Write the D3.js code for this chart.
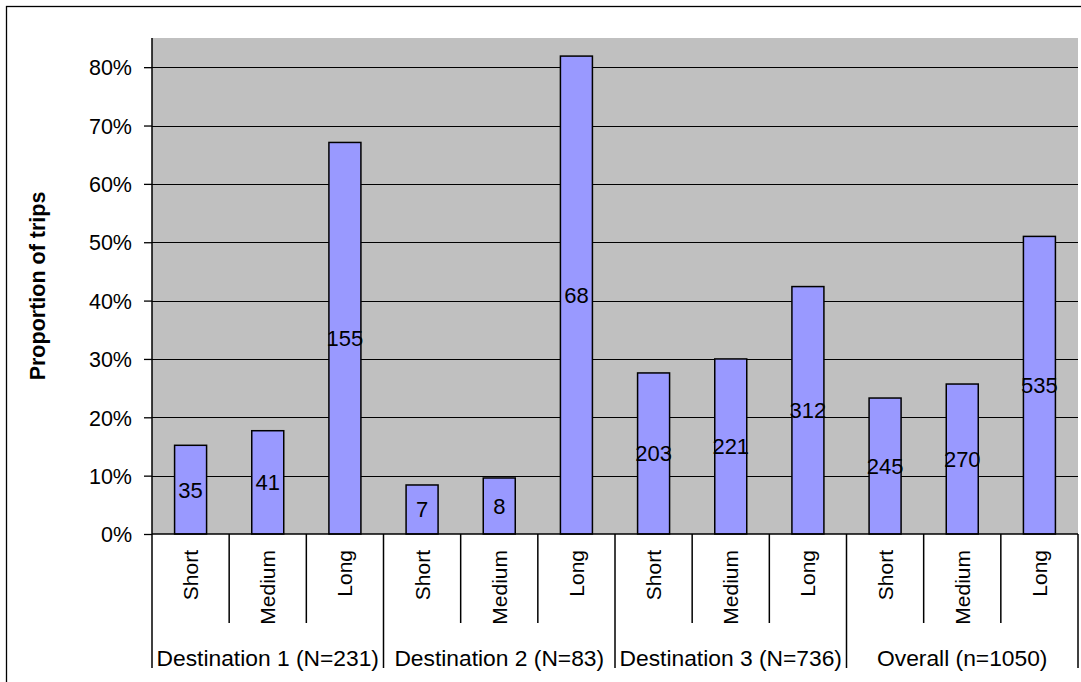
<!DOCTYPE html>
<html><head><meta charset="utf-8">
<script src="https://cdn.jsdelivr.net/npm/d3@7"></script>
<style>
html,body{margin:0;padding:0;background:#fff;}
svg{display:block;font-family:Arial,"Liberation Sans",sans-serif;}
</style></head>
<body><svg id="c" width="1081" height="682"></svg>
<script>
const groups = ["Destination 1 (N=231)", "Destination 2 (N=83)", "Destination 3 (N=736)", "Overall (n=1050)"];
const categories = ["Short", "Medium", "Long"];
const proportions = [0.152, 0.177, 0.671, 0.084, 0.096, 0.819, 0.276, 0.300, 0.424, 0.233, 0.257, 0.510];
const counts = [35, 41, 155, 7, 8, 68, 203, 221, 312, 245, 270, 535];
const yTicks = [0, 0.1, 0.2, 0.3, 0.4, 0.5, 0.6, 0.7, 0.8];
const yMax = 0.85;

const svg = d3.select("#c");
const L = 152, R = 1078, T = 38, B = 534;

// outer border
svg.append("rect").attr("x", 6.5).attr("y", 6.5).attr("width", 1100).attr("height", 700)
  .attr("fill", "#fff").attr("stroke", "#000").attr("stroke-width", 1.3);

const items = [];
groups.forEach((g, gi) => categories.forEach((c, ci) => items.push({g: gi, c, i: gi * 3 + ci})));

const x = d3.scaleBand().domain(d3.range(items.length)).range([L, R]).padding(0);
const y = d3.scaleLinear().domain([0, yMax]).range([B, T]);
const gx = d3.scaleBand().domain(d3.range(groups.length)).range([L, R]).padding(0);

// plot area
svg.append("rect").attr("x", L).attr("y", T).attr("width", R - L).attr("height", B - T).attr("fill", "#C0C0C0");

// gridlines
svg.append("g").selectAll("line").data(yTicks.filter(d => d > 0)).join("line")
  .attr("x1", L).attr("x2", R).attr("y1", d => Math.round(y(d)) + 0.5).attr("y2", d => Math.round(y(d)) + 0.5)
  .attr("stroke", "#000").attr("stroke-width", 1);

// y axis
const yAxis = d3.axisLeft(y).tickValues(yTicks).tickFormat(d3.format(".0%")).tickSize(8).tickSizeOuter(0);
const ya = svg.append("g").attr("transform", `translate(${L},0)`).call(yAxis);
ya.select(".domain").remove();
ya.selectAll(".tick line").attr("stroke", "#000").attr("stroke-width", 1.3);
ya.selectAll(".tick text").attr("x", -20).attr("font-size", 21.5).attr("fill", "#000")
  .attr("font-family", "Arial, 'Liberation Sans', sans-serif").attr("dy", "0.36em");

// bars
const bw = 32;
svg.append("g").selectAll("rect").data(items).join("rect")
  .attr("x", d => x(d.i) + x.bandwidth() / 2 - bw / 2)
  .attr("y", d => y(proportions[d.i]))
  .attr("width", bw)
  .attr("height", d => B - y(proportions[d.i]))
  .attr("fill", "#9999FF").attr("stroke", "#000").attr("stroke-width", 1.5);

// bar labels
svg.append("g").selectAll("text").data(items).join("text")
  .attr("x", d => x(d.i) + x.bandwidth() / 2)
  .attr("y", d => (y(proportions[d.i]) + B) / 2)
  .attr("dy", "0.36em")
  .attr("text-anchor", "middle").attr("font-size", 22).attr("fill", "#000")
  .text(d => counts[d.i]);

// axis lines
svg.append("line").attr("x1", L).attr("x2", L).attr("y1", T).attr("y2", 668).attr("stroke", "#000").attr("stroke-width", 1.5);
svg.append("line").attr("x1", L).attr("x2", R).attr("y1", B).attr("y2", B).attr("stroke", "#000").attr("stroke-width", 1.5);

// category separators
const seps = d3.range(1, items.length + 1);
svg.append("g").selectAll("line").data(seps).join("line")
  .attr("x1", d => x(d - 1) + x.bandwidth()).attr("x2", d => x(d - 1) + x.bandwidth())
  .attr("y1", B).attr("y2", d => d % 3 === 0 ? 668 : 623)
  .attr("stroke", "#000").attr("stroke-width", 1.5);

// category labels
svg.append("g").selectAll("text").data(items).join("text")
  .attr("transform", d => `translate(${x(d.i) + x.bandwidth() / 2},550) rotate(-90)`)
  .attr("dy", "0.36em").attr("text-anchor", "end").attr("font-size", 21).attr("fill", "#000")
  .text(d => d.c);

// group labels
svg.append("g").selectAll("text").data(groups).join("text")
  .attr("x", (d, i) => gx(i) + gx.bandwidth() / 2).attr("y", 666)
  .attr("text-anchor", "middle").attr("font-size", 22.8).attr("fill", "#000")
  .text(d => d);

// y title
svg.append("text").attr("transform", `translate(45,${(T + B) / 2}) rotate(-90)`)
  .attr("text-anchor", "middle").attr("font-size", 21.5).attr("font-weight", "bold").attr("fill", "#000")
  .text("Proportion of trips");
</script></body></html>
